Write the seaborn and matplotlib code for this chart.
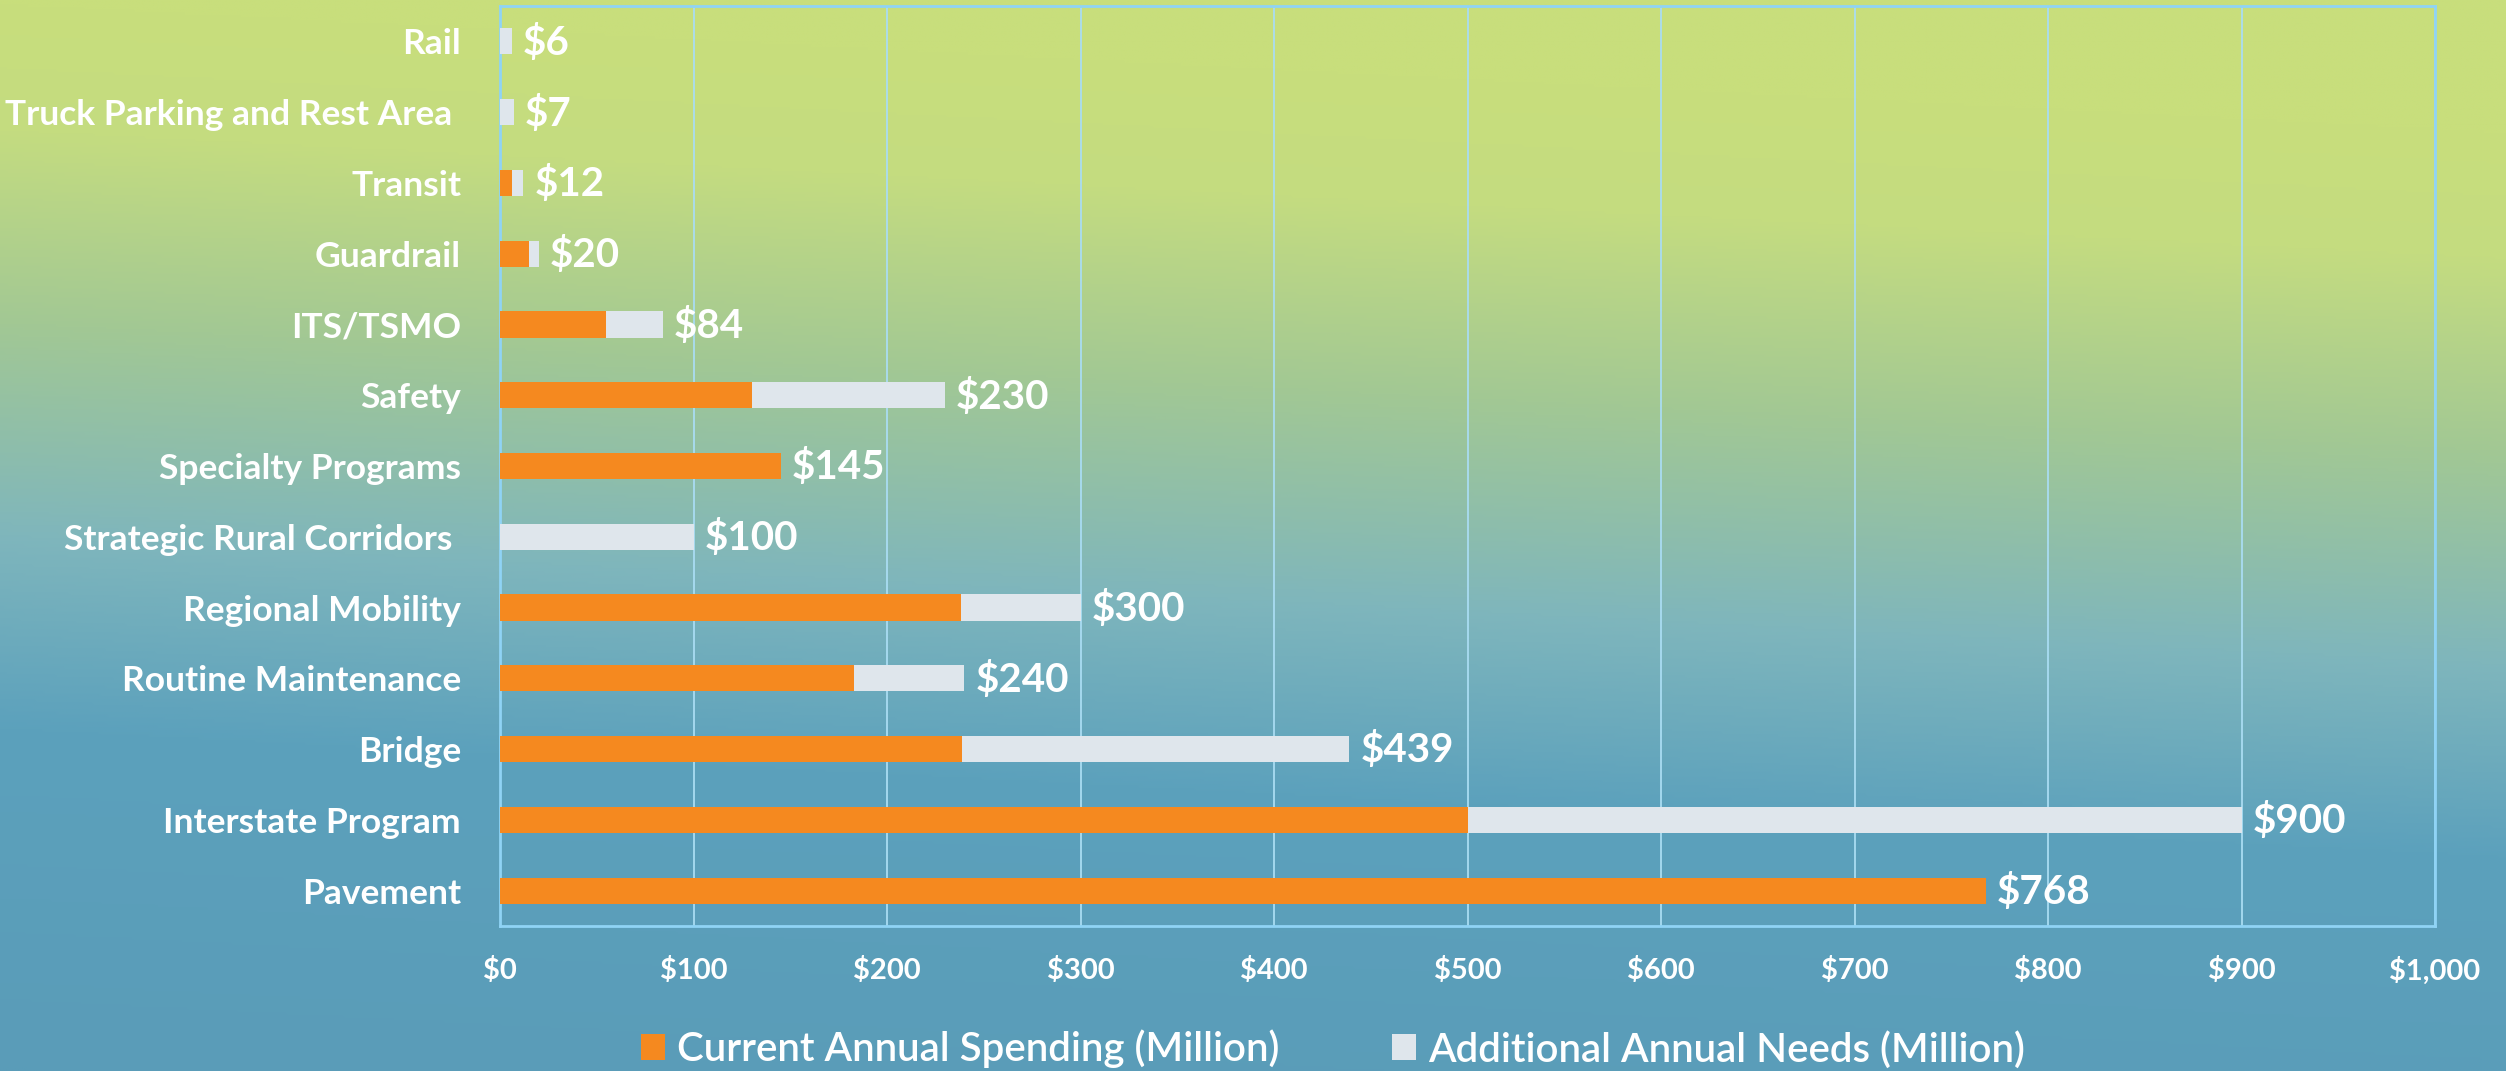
import numpy as np
import pandas as pd
import matplotlib
matplotlib.use("Agg")
import matplotlib.pyplot as plt
import seaborn as sns
from matplotlib.colors import LinearSegmentedColormap
from matplotlib.patches import Patch

# ------------------------------------------------------------
# data (millions of dollars), top to bottom
# ------------------------------------------------------------
categories = [
    "Rail", "Truck Parking and Rest Area ", "Transit", "Guardrail", "ITS/TSMO",
    "Safety", "Specialty Programs", "Strategic Rural Corridors ",
    "Regional Mobility", "Routine Maintenance", "Bridge",
    "Interstate Program", "Pavement",
]
current = [0, 0, 6, 15, 55, 130, 145, 0, 238, 183, 239, 500, 768]
additional = [6, 7, 6, 5, 29, 100, 0, 100, 62, 57, 200, 400, 0]
total_labels = ["$6", "$7", "$12", "$20", "$84", "$230", "$145", "$100",
                "$300", "$240", "$439", "$900", "$768"]
x_ticks = list(range(0, 1001, 100))
x_tick_labels = ["$0", "$100", "$200", "$300", "$400", "$500", "$600",
                 "$700", "$800", "$900", "$1,000"]
series_names = ["Current Annual Spending (Million)",
                "Additional Annual Needs (Million)"]

df = pd.DataFrame({"cat": categories, "current": current, "additional": additional})
df["total"] = df["current"] + df["additional"]

ORANGE = "#F5891F"
GREY = "#DFE6EC"
FRAME = "#8FD3F5"
GRID = "#A9DCF2"

sns.set_theme(style="white")
plt.rcParams["font.family"] = ["Lato", "DejaVu Sans"]

W, H = 2506, 1071
fig = plt.figure(figsize=(W / 100, H / 100), dpi=100)

# background gradient (green top -> blue bottom, slightly diagonal)
bg = fig.add_axes([0, 0, 1, 1], zorder=-10)
yy, xx = np.mgrid[0:1:400j, 0:1:400j]
t = np.clip(yy - 0.12 * xx, 0, 1)
cmap = LinearSegmentedColormap.from_list(
    "bg", [(0.0, "#C8DE7C"), (0.12, "#C4DC80"), (0.3, "#A2C894"),
           (0.5, "#7FB6BC"), (0.68, "#5CA1BC"), (1.0, "#5A9CB8")])
bg.imshow(t, cmap=cmap, aspect="auto", extent=[0, 1, 1, 0], vmin=0, vmax=1)
bg.axis("off")

ax = fig.add_axes([500 / W, 1 - 926 / H, 1935 / W, 920 / H])
ax.set_facecolor("none")

sns.barplot(data=df, x="total", y="cat", color=GREY, width=0.37,
            orient="h", ax=ax, saturation=1, zorder=3, linewidth=0)
sns.barplot(data=df, x="current", y="cat", color=ORANGE, width=0.37,
            orient="h", ax=ax, saturation=1, zorder=4, linewidth=0)

for i, (tot, lab) in enumerate(zip(df["total"], total_labels)):
    ax.annotate(lab, xy=(tot, i), xytext=(8, -1), textcoords="offset points",
                ha="left", va="center", fontsize=29, fontweight="bold",
                color="white", zorder=5)

ax.set_xlim(0, 1000)
ax.set_ylim(12.5, -0.5)
ax.set_xticks(x_ticks)
ax.set_xticklabels(x_tick_labels, fontsize=21, fontweight="bold", color="white")
ax.tick_params(axis="x", length=0, pad=22)
ax.tick_params(axis="y", length=0, pad=28, labelsize=25.5, labelcolor="white")
for lbl in ax.get_yticklabels():
    lbl.set_fontweight("bold")
ax.set_xlabel("")
ax.set_ylabel("")

ax.grid(axis="x", color=GRID, linewidth=1.3, zorder=0)
ax.set_axisbelow(True)
for s in ax.spines.values():
    s.set_visible(True)
    s.set_color(FRAME)
    s.set_linewidth(2)

handles = [Patch(facecolor=ORANGE, edgecolor="none"),
           Patch(facecolor=GREY, edgecolor="none")]
fig.legend(handles, series_names, loc="center", ncol=2, frameon=False,
           bbox_to_anchor=(1333 / W, 1 - 1049 / H), fontsize=29,
           labelcolor="white", handlelength=0.6, handleheight=0.6,
           handletextpad=0.3, columnspacing=2.8,
           prop={"size": 29, "weight": "semibold"})

fig.savefig("out.png", dpi=100)
